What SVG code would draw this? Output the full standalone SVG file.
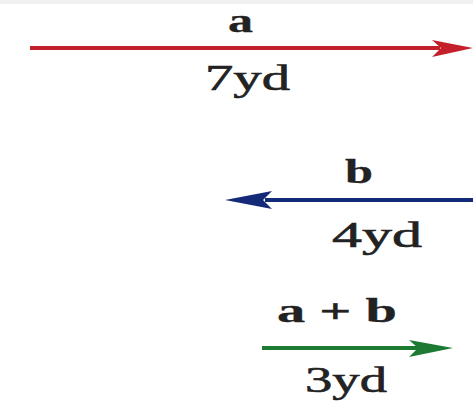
<svg xmlns="http://www.w3.org/2000/svg" width="473" height="405" viewBox="0 0 473 405">
<style>
.lbl{font-family:"Liberation Serif","DejaVu Serif",serif;font-size:36px;fill:#222;stroke:#222;stroke-width:0.6}
.b{font-weight:bold;font-size:33px;stroke-width:0.3}
</style>
<rect width="473" height="405" fill="#fff"/>
<rect width="473" height="4" fill="#f0f0f0"/>
<g id="connectors">
<line x1="30" y1="48" x2="440" y2="48" stroke="#c3202b" stroke-width="4"/>
<polygon points="473,48 432,40 441,48 432,57" fill="#c3202b"/>
<line x1="265" y1="200" x2="473" y2="200" stroke="#142a78" stroke-width="4"/>
<polygon points="225,200 272,191 263,200 272,209" fill="#142a78"/>
<line x1="262" y1="348" x2="418" y2="348" stroke="#1d7a33" stroke-width="4"/>
<polygon points="453,348 409,340 418,348 409,357" fill="#1d7a33"/>
</g>
<g id="a"><text class="lbl b" x="228" y="32" textLength="25" lengthAdjust="spacingAndGlyphs">a</text>
<text class="lbl" x="205" y="90" textLength="85" lengthAdjust="spacingAndGlyphs">7yd</text></g>
<g id="b"><text class="lbl b" x="345" y="183" textLength="28" lengthAdjust="spacingAndGlyphs">b</text>
<text class="lbl" x="332" y="247" textLength="90" lengthAdjust="spacingAndGlyphs">4yd</text></g>
<g id="sum"><text class="lbl b" x="277" y="322" textLength="120" lengthAdjust="spacingAndGlyphs">a + b</text>
<text class="lbl" x="305" y="392" textLength="82" lengthAdjust="spacingAndGlyphs">3yd</text></g>
</svg>
